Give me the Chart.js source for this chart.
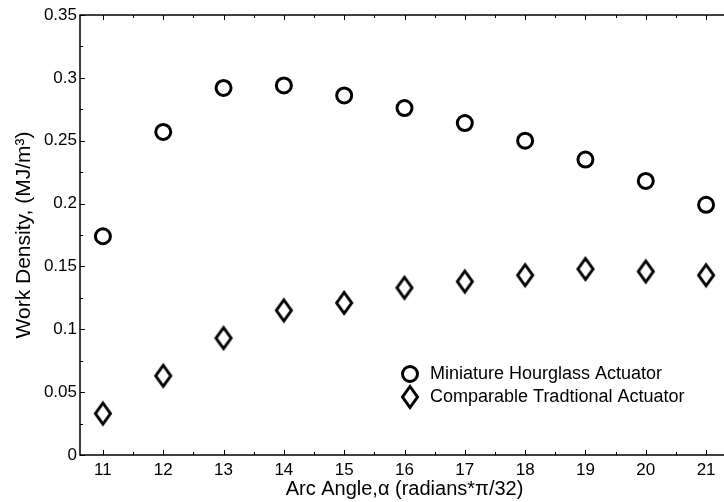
<!DOCTYPE html>
<html>
<head>
<meta charset="utf-8">
<script src="https://cdn.jsdelivr.net/npm/chart.js@4.4.1/dist/chart.umd.min.js"></script>
<style>
  html, body { margin: 0; padding: 0; background: #fff; overflow: hidden; }
  #wrap { width: 724px; height: 502px; overflow: hidden; }
  #box { width: 740px; height: 502px; position: relative; }
</style>
</head>
<body>
<div id="wrap"><div id="box"><canvas id="workChart"></canvas></div></div>
<script>
// Arc angle (radians*pi/32)
const arcAngles = [11, 12, 13, 14, 15, 16, 17, 18, 19, 20, 21];
// Work density, MJ/m^3
const hourglassValues = [0.174, 0.257, 0.292, 0.294, 0.286, 0.276, 0.264, 0.250, 0.235, 0.218, 0.199];
const traditionalValues = [0.033, 0.063, 0.093, 0.115, 0.121, 0.133, 0.138, 0.143, 0.148, 0.146, 0.143];

const xTicks = [11, 12, 13, 14, 15, 16, 17, 18, 19, 20, 21];
const xMinorTicks = [11.5, 12.5, 13.5, 14.5, 15.5, 16.5, 17.5, 18.5, 19.5, 20.5, 21.5];
const yTicks = [0, 0.05, 0.1, 0.15, 0.2, 0.25, 0.3, 0.35];
const yTickLabels = ['0', '0.05', '0.1', '0.15', '0.2', '0.25', '0.3', '0.35'];
const yMinorTicks = [0.025, 0.075, 0.125, 0.175, 0.225, 0.275, 0.325];

Chart.defaults.font.family = '"Liberation Sans", Arial, Helvetica, sans-serif';
Chart.defaults.color = '#000';

// tall open diamond marker, like matlab's 'd'
function makeDiamond() {
    const c = document.createElement('canvas');
    c.width = 22;
    c.height = 28;
    const g = c.getContext('2d');
    g.strokeStyle = '#000';
    g.lineWidth = 3;
    g.beginPath();
    g.moveTo(11, 3.5);
    g.lineTo(18.5, 14);
    g.lineTo(11, 24.5);
    g.lineTo(3.5, 14);
    g.closePath();
    g.stroke();
    return c;
}
const diamond = makeDiamond();

// box, inward ticks and the in-plot legend
const matlabAxes = {
    id: 'matlabAxes',
    afterDraw(chart) {
        const ctx = chart.ctx;
        const a = chart.chartArea;
        const xs = chart.scales.x;
        const ys = chart.scales.y;
        ctx.save();
        ctx.strokeStyle = '#000';
        ctx.lineWidth = 1.5;
        ctx.strokeRect(a.left, a.top, a.right - a.left, a.bottom - a.top);

        ctx.lineWidth = 1;
        ctx.beginPath();
        const tickX = (vals, len) => vals.forEach(v => {
            const px = Math.round(xs.getPixelForValue(v)) + 0.5;
            ctx.moveTo(px, a.bottom); ctx.lineTo(px, a.bottom - len);
            ctx.moveTo(px, a.top); ctx.lineTo(px, a.top + len);
        });
        const tickY = (vals, len) => vals.forEach(v => {
            const py = Math.round(ys.getPixelForValue(v)) + 0.5;
            ctx.moveTo(a.left, py); ctx.lineTo(a.left + len, py);
            ctx.moveTo(a.right, py); ctx.lineTo(a.right - len, py);
        });
        tickX(xTicks, 5);
        tickX(xMinorTicks, 3);
        tickY(yTicks, 5);
        tickY(yMinorTicks, 3);
        ctx.stroke();

        // legend
        const lx = 410, ly = 374, gap = 23;
        ctx.lineWidth = 3;
        ctx.beginPath();
        ctx.arc(lx, ly, 7.5, 0, Math.PI * 2);
        ctx.stroke();
        ctx.drawImage(diamond, lx - 11, ly + gap - 14);
        ctx.fillStyle = '#000';
        ctx.font = '18px "Liberation Sans", Arial, sans-serif';
        ctx.textBaseline = 'middle';
        ctx.textAlign = 'left';
        chart.data.datasets.forEach((ds, i) => {
            ctx.fillText(ds.label, lx + 20, ly + i * gap);
        });
        ctx.restore();
    }
};

const workChart = new Chart(document.getElementById('workChart'), {
    type: 'scatter',
    data: {
        datasets: [{
            label: 'Miniature Hourglass Actuator',
            data: arcAngles.map((x, i) => ({ x: x, y: hourglassValues[i] })),
            pointStyle: 'circle',
            pointRadius: 7.5,
            pointHoverRadius: 7.5,
            borderWidth: 3,
            borderColor: '#000',
            backgroundColor: 'transparent',
            clip: false
        }, {
            label: 'Comparable Tradtional Actuator',
            data: arcAngles.map((x, i) => ({ x: x, y: traditionalValues[i] })),
            pointStyle: diamond,
            pointRadius: 10,
            borderColor: '#000',
            backgroundColor: 'transparent',
            clip: false
        }]
    },
    options: {
        responsive: true,
        maintainAspectRatio: false,
        animation: false,
        layout: { padding: { left: 0, top: 15, right: 10, bottom: 0 } },
        plugins: {
            legend: { display: false },
            tooltip: { enabled: false }
        },
        scales: {
            x: {
                type: 'linear',
                min: 10.62,
                max: 21.38,
                afterBuildTicks: s => { s.ticks = xTicks.map(v => ({ value: v })); },
                afterFit: s => { s.height = 47; },
                grid: { display: false, drawTicks: false },
                border: { display: false },
                ticks: {
                    padding: 5,
                    maxRotation: 0,
                    font: { size: 17 },
                    callback: v => String(v)
                },
                title: {
                    display: true,
                    text: 'Arc Angle,\u03b1 (radians*\u03c0/32)',
                    font: { size: 20 },
                    padding: { top: 0, bottom: 1 }
                }
            },
            y: {
                min: 0,
                max: 0.35,
                afterBuildTicks: s => { s.ticks = yTicks.map(v => ({ value: v })); },
                afterFit: s => { s.width = 80; },
                grid: { display: false, drawTicks: false },
                border: { display: false },
                ticks: {
                    padding: 3,
                    font: { size: 17 },
                    callback: (v, i) => yTickLabels[i]
                },
                title: {
                    display: true,
                    text: 'Work Density, (MJ/m\u00b3)',
                    font: { size: 21 },
                    padding: { top: 12, bottom: 0 }
                }
            }
        }
    },
    plugins: [matlabAxes]
});
</script>
</body>
</html>
